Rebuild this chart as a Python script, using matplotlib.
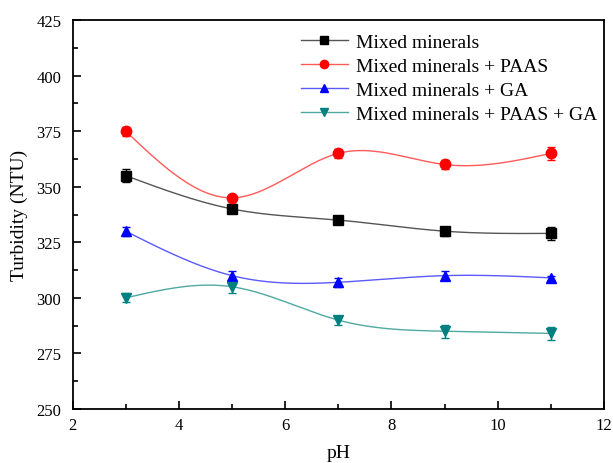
import numpy as np
import matplotlib
matplotlib.use("Agg")
import matplotlib.pyplot as plt
from matplotlib.ticker import MultipleLocator

ph = [3, 5, 7, 9, 11]
mixed = [355, 340, 335, 330, 329]
mixed_err = [3, 2, 1, 2, 3]
paas = [375, 345, 365, 360, 365]
paas_err = [2, 1, 2, 2, 3]
ga = [330, 310, 307, 310, 309]
ga_err = [2, 2, 2, 2, 1]
paas_ga = [300, 305, 290, 285, 284]
paas_ga_err = [2, 3, 2, 3, 3]

labels = ["Mixed minerals", "Mixed minerals + PAAS", "Mixed minerals + GA",
          "Mixed minerals + PAAS + GA"]


def natural_spline(x, y, n=200):
    x = np.asarray(x, float)
    y = np.asarray(y, float)
    m = len(x)
    h = np.diff(x)
    A = np.zeros((m, m))
    b = np.zeros(m)
    A[0, 0] = 1
    A[-1, -1] = 1
    for i in range(1, m - 1):
        A[i, i - 1] = h[i - 1]
        A[i, i] = 2 * (h[i - 1] + h[i])
        A[i, i + 1] = h[i]
        b[i] = 6 * ((y[i + 1] - y[i]) / h[i] - (y[i] - y[i - 1]) / h[i - 1])
    M = np.linalg.solve(A, b)
    xs = np.linspace(x[0], x[-1], n)
    ys = np.empty_like(xs)
    for k, xv in enumerate(xs):
        i = min(np.searchsorted(x, xv, side="right") - 1, m - 2)
        t0 = x[i + 1] - xv
        t1 = xv - x[i]
        hi = h[i]
        ys[k] = (M[i] * t0 ** 3 / (6 * hi) + M[i + 1] * t1 ** 3 / (6 * hi)
                 + (y[i] / hi - M[i] * hi / 6) * t0
                 + (y[i + 1] / hi - M[i + 1] * hi / 6) * t1)
    return xs, ys


plt.rcParams["font.family"] = ["Liberation Serif", "DejaVu Serif"]
fig = plt.figure(figsize=(6.13, 4.64), dpi=100)
ax = fig.add_axes([72.5 / 613, 1 - 410 / 464, (604 - 72.5) / 613, (410 - 21) / 464])

series = [
    (mixed, mixed_err, "black", "#555555", "s", 6.5),
    (paas, paas_err, "red", "#ff5a5a", "o", 7.5),
    (ga, ga_err, "blue", "#5a5aff", "^", 7.5),
    (paas_ga, paas_ga_err, "#008080", "#4fa9a3", "v", 7.5),
]

for (vals, err, mc, lc, mk, ms), lab in zip(series, labels):
    xs, ys = natural_spline(ph, vals)
    ax.plot(xs, ys, color=lc, lw=1.0, zorder=2)
    ax.errorbar(ph, vals, yerr=err, fmt="none", ecolor=mc, elinewidth=1,
                capsize=3, capthick=1, zorder=3)
    ax.plot(ph, vals, ls="none", marker=mk, color=mc, ms=ms, zorder=4)
    ax.plot([], [], color=lc, lw=1.0, marker=mk, mfc=mc, mec=mc, ms=6, label=lab)

ax.set_xlim(2, 12)
ax.set_ylim(250, 425)
ax.xaxis.set_major_locator(MultipleLocator(2))
ax.xaxis.set_minor_locator(MultipleLocator(1))
ax.yaxis.set_major_locator(MultipleLocator(25))
ax.yaxis.set_minor_locator(MultipleLocator(12.5))
ax.tick_params(which="both", direction="in", top=False, right=False,
               labelsize=12, width=1.2)
ax.tick_params(which="major", length=6)
ax.tick_params(which="minor", length=3.5)
ax.tick_params(axis="x", pad=6)
ax.tick_params(axis="y", pad=8)
for s in ax.spines.values():
    s.set_linewidth(1.3)

ax.set_xlabel("pH", fontsize=14, labelpad=8)
ax.set_ylabel("Turbidity (NTU)", fontsize=14, labelpad=6)

ax.legend(loc="upper right", frameon=False, fontsize=14, handlelength=2.4,
          handletextpad=0.4, labelspacing=0.32, borderaxespad=0.3,
          bbox_to_anchor=(1.012, 1.0))

fig.savefig("out.png", dpi=100)
